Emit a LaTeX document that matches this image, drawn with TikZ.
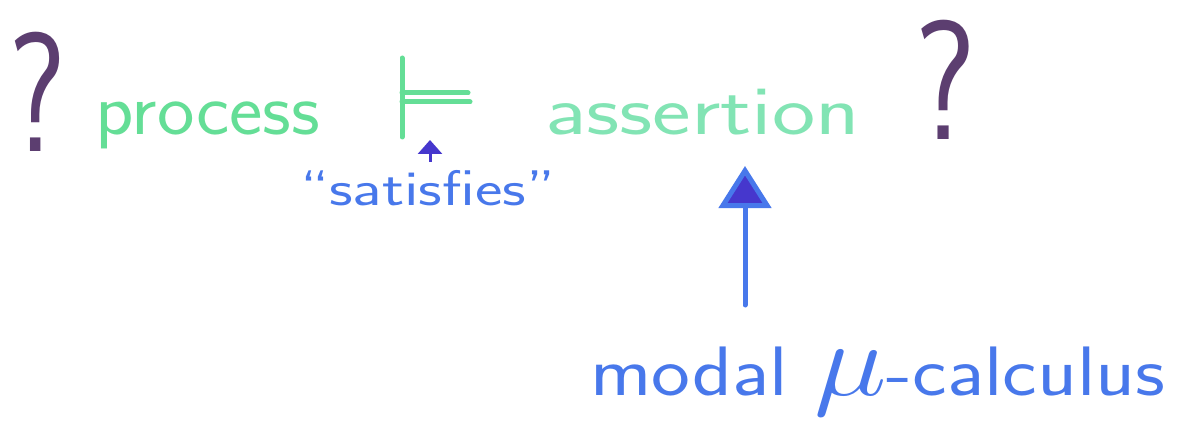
\documentclass[tikz,border=0pt]{standalone}
\usetikzlibrary{arrows.meta}
\usepackage{graphicx}
\definecolor{pgreen}{RGB}{100,222,150}
\definecolor{pgreenl}{RGB}{130,228,180}
\definecolor{pblue}{RGB}{72,120,235}
\definecolor{pdblue}{RGB}{70,55,205}
\definecolor{ppurple}{RGB}{92,62,112}
\newcommand{\fitw}[2]{\resizebox{#1}{\height}{#2}}
\tikzset{
  word/.style={anchor=base west, inner sep=0pt, font=\sffamily},
  pen/.style={line width=5pt, line cap=round, line join=round},
  qmark/.style={anchor=base, inner sep=0pt, text=ppurple, font=\fontsize{170}{180}\selectfont\sffamily},
}
\begin{document}
\begin{tikzpicture}[x=1pt,y=-1pt]
\useasboundingbox[fill=white] (0,0) rectangle (1186,425);
% question marks
\node[qmark] (q1) at (38,152) {\fitw{58pt}{?}};
\node[qmark] (q2) at (945,140) {\fitw{62pt}{?}};
% words
\node[word, text=pgreen] (proc) at (95,135) {\fontsize{74}{80}\selectfont\fitw{225pt}{process}};
\node[word, text=pgreenl] (asrt) at (545,135) {\fontsize{70}{80}\selectfont\fitw{315pt}{assertion}};
% satisfies symbol
\coordinate (st) at (402,58);
\coordinate (sb) at (402,137);
\coordinate (s1) at (468,93);
\coordinate (s2) at (470,102);
\draw[pen, draw=pgreen] (st) -- (sb);
\draw[pen, draw=pgreen] (402,93) -- (s1);
\draw[pen, draw=pgreen] (402,102) -- (s2);
\node[word, text=pblue] (sat) at (300,205) {\fontsize{50}{60}\selectfont\fitw{255pt}{``satisfies''}};
\coordinate (sa0) at (430,162);
\coordinate (sa1) at (430,140);
\draw[line width=3pt, draw=pdblue, -{Triangle[width=24pt,length=14pt]}] (sa0) -- (sa1);
% modal mu-calculus
\node[word, text=pblue] (mmc) at (590,395) {\fontsize{70}{80}\selectfont\fitw{575pt}{modal \scalebox{4.2}{$\mu$}-calculus}};
\coordinate (a0) at (745,305);
\coordinate (a1) at (745,166);
\draw[line width=5pt, draw=pblue, line cap=round, -{Triangle[width=52pt,length=42pt,fill=pdblue]}] (a0) -- (a1);
\end{tikzpicture}
\end{document}
